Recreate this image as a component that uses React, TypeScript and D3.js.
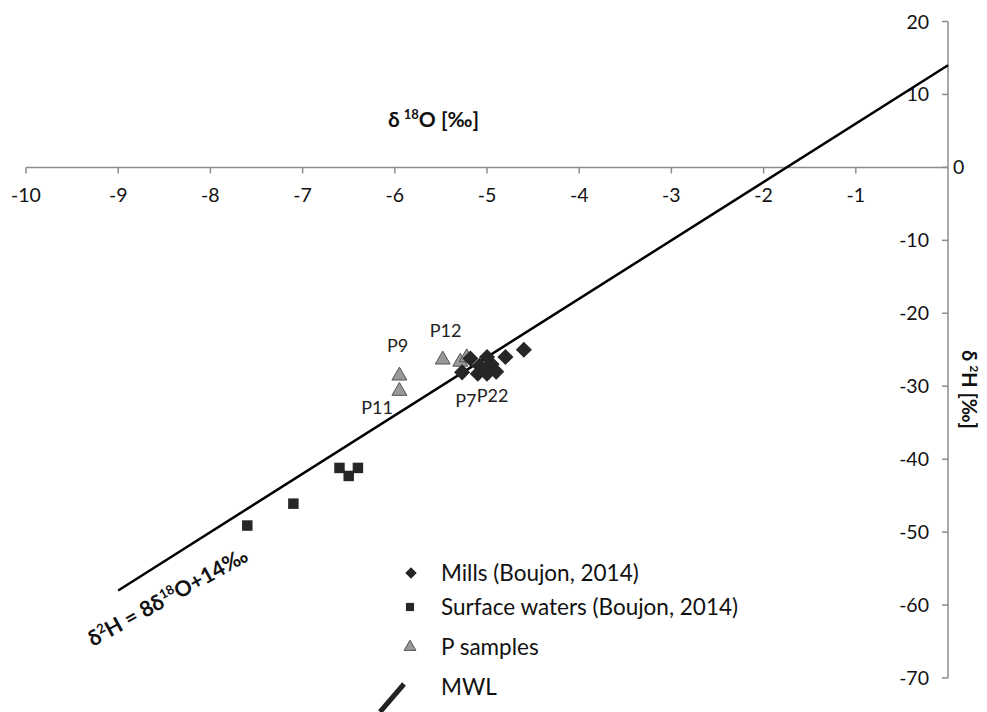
import { useMemo } from 'react'
import * as d3 from 'd3'

const W = 987
const H = 712

// x / y tick values
const X_TICKS = [-10, -9, -8, -7, -6, -5, -4, -3, -2, -1]
const Y_TICKS = [20, 10, 0, -10, -20, -30, -40, -50, -60, -70]

// δ18O, δ2H
const MILLS: [number, number][] = [
  [-4.6, -25], [-4.8, -26], [-4.9, -28], [-4.95, -27], [-5.0, -26],
  [-5.0, -28.3], [-5.08, -27.2], [-5.1, -28.3], [-5.18, -26.2], [-5.27, -28.1]
]
const SURFACE: [number, number][] = [
  [-7.6, -49.1], [-7.1, -46.1], [-6.6, -41.2], [-6.5, -42.3], [-6.4, -41.2]
]
const P_SAMPLES: [number, number][] = [
  [-5.95, -28.7], [-5.95, -30.8], [-5.48, -26.5], [-5.29, -26.8], [-5.22, -26.2]
]
const P_LABELS = [
  { name: 'P9', x: -5.97, y: -25.3, anchor: 'middle' },
  { name: 'P11', x: -6.02, y: -33.8, anchor: 'end' },
  { name: 'P12', x: -5.45, y: -23.2, anchor: 'middle' },
  { name: 'P7', x: -5.23, y: -32.8, anchor: 'middle' },
  { name: 'P22', x: -4.94, y: -32.1, anchor: 'middle' }
]
// MWL: δ2H = 8 δ18O + 14
const MWL_X = [-9, 0]
const mwl = (x: number) => 8 * x + 14

const LEGEND = ['Mills (Boujon, 2014)', 'Surface waters (Boujon, 2014)', 'P samples', 'MWL']

const FONT = 'Lato, "Open Sans", sans-serif'
const AXIS = '#8c8c8c'

export default function App() {
  const x = useMemo(() => d3.scaleLinear().domain([-10, 0]).range([26, 948]), [])
  const y = useMemo(() => d3.scaleLinear().domain([20, -70]).range([21.5, 678]), [])

  const diamond = d3.symbol().type(d3.symbolDiamond2).size(165)()
  const square = d3.symbol().type(d3.symbolSquare2).size(140)()
  const tri = d3.symbol().type(d3.symbolTriangle2).size(160)()
  const diamondL = d3.symbol().type(d3.symbolDiamond2).size(85)()
  const squareL = d3.symbol().type(d3.symbolSquare2).size(85)()
  const triL = d3.symbol().type(d3.symbolTriangle2).size(100)()

  const line = d3.line<number>().x(d => x(d)).y(d => y(mwl(d)))

  const x0 = x(0)
  const y0 = y(0)
  const legendY = [573, 607, 647, 687]

  return (
    <svg width={W} height={H} style={{ position: 'absolute', left: 0, top: 0, background: '#fff' }} fontFamily={FONT}>
      {/* x axis */}
      <line x1={x(-10)} x2={x0} y1={y0} y2={y0} stroke={AXIS} strokeWidth={1.5} />
      {X_TICKS.map(t => (
        <g key={t}>
          <line x1={x(t)} x2={x(t)} y1={y0} y2={y0 + 6} stroke={AXIS} strokeWidth={1.5} />
          <text x={x(t)} y={y0 + 35} textAnchor="middle" fontSize={19.5} fill="#111">{t}</text>
        </g>
      ))}
      {/* y axis */}
      <line x1={x0} x2={x0} y1={y(20)} y2={y(-70)} stroke={AXIS} strokeWidth={1.5} />
      {Y_TICKS.map(t => (
        <g key={t}>
          <line x1={x0 - 6} x2={x0} y1={y(t)} y2={y(t)} stroke={AXIS} strokeWidth={1.5} />
          {t === 0 ? (
            <text x={x0 + 5} y={y(t) + 7} fontSize={19.5} fill="#111">0</text>
          ) : (
            <text x={x0 - 19} y={y(t) + 7} textAnchor="end" fontSize={19.5} fill="#111">{t}</text>
          )}
        </g>
      ))}

      {/* axis titles */}
      <text x={388} y={127} fontSize={21} fontWeight="bold" fill="#111">
        δ<tspan dx={4} dy={-8} fontSize={13}>18</tspan><tspan dy={8}>O [‰]</tspan>
      </text>
      <text transform="translate(962,350) rotate(90)" fontSize={20} fontWeight="bold" fill="#111">
        δ<tspan dx={4} dy={-8} fontSize={12}>2</tspan><tspan dy={8}>H [‰]</tspan>
      </text>

      {/* MWL */}
      <path d={line(MWL_X) ?? ''} fill="none" stroke="#000" strokeWidth={2.5} />
      <text transform="translate(93,647) rotate(-29)" fontSize={21.5} fontWeight="bold" fill="#111">
        δ<tspan dy={-8} fontSize={13}>2</tspan><tspan dy={8}>H = 8δ</tspan><tspan dy={-8} fontSize={13}>18</tspan><tspan dy={8}>O+14‰</tspan>
      </text>

      {/* surface waters */}
      {SURFACE.map((d, i) => (
        <path key={`s${i}`} d={square ?? ''} transform={`translate(${x(d[0])},${y(d[1])})`} fill="#262626" />
      ))}
      {/* P samples */}
      {P_SAMPLES.map((d, i) => (
        <path key={`p${i}`} d={tri ?? ''} transform={`translate(${x(d[0])},${y(d[1]) - 1})`} fill="#999" stroke="#555" strokeWidth={1} />
      ))}
      {/* mills */}
      {MILLS.map((d, i) => (
        <path key={`m${i}`} d={diamond ?? ''} transform={`translate(${x(d[0])},${y(d[1])})`} fill="#262626" />
      ))}
      {P_LABELS.map(l => (
        <text key={l.name} x={x(l.x)} y={y(l.y)} textAnchor={l.anchor} fontSize={18} fill="#222">{l.name}</text>
      ))}

      {/* legend */}
      <path d={diamondL ?? ''} transform={`translate(411,${legendY[0]})`} fill="#262626" />
      <path d={squareL ?? ''} transform={`translate(410,${legendY[1]})`} fill="#262626" />
      <path d={triL ?? ''} transform={`translate(410,${legendY[2]})`} fill="#999" stroke="#555" strokeWidth={1} />
      <line x1={380} y1={712} x2={404} y2={684} stroke="#222" strokeWidth={5} />
      {LEGEND.map((s, i) => (
        <text key={s} x={441} y={legendY[i] + 8} fontSize={22.5} fill="#111">{s}</text>
      ))}
    </svg>
  )
}
